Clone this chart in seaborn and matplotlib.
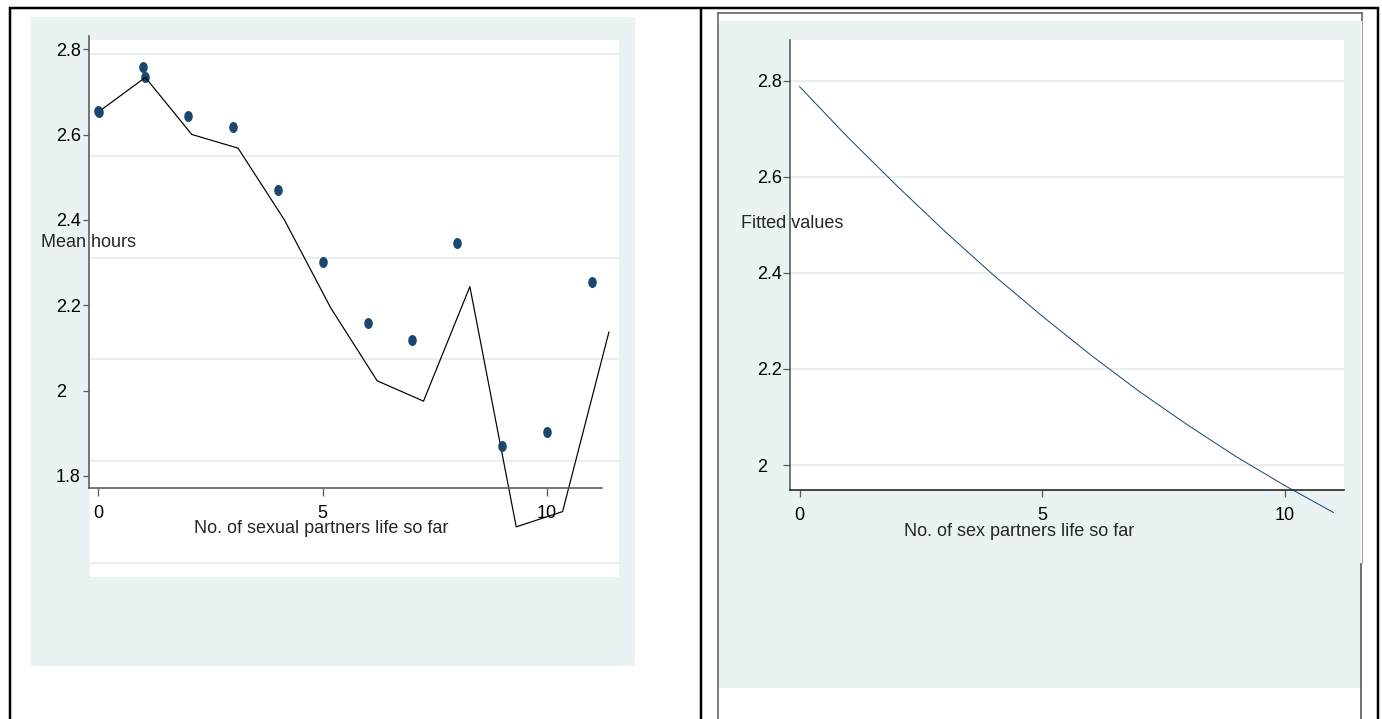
import matplotlib
matplotlib.use("Agg")
import matplotlib.pyplot as plt
from matplotlib.patches import Rectangle
from matplotlib.lines import Line2D
from matplotlib.path import Path
from matplotlib.transforms import Affine2D
import seaborn as sns
import pandas as pd

# ---- data -------------------------------------------------------------
partners = [0, 1, 2, 3, 4, 5, 6, 7, 8, 9, 10, 11]
mean_hours = [2.655, 2.759, 2.644, 2.617, 2.470, 2.301, 2.159, 2.118, 2.345, 1.870, 1.902, 2.255]
line_hours = [2.687, 2.754, 2.642, 2.615, 2.474, 2.301, 2.158, 2.118, 2.343, 1.871, 1.901, 2.254]
fitted_values = [2.788, 2.682, 2.582, 2.486, 2.395, 2.310, 2.229, 2.153, 2.083, 2.017, 1.957, 1.901]

x_ticks = [0, 5, 10]
x_tick_labels = ["0", "5", "10"]
y_ticks_left = [1.8, 2.0, 2.2, 2.4, 2.6, 2.8]
y_tick_labels_left = ["1.8", "2", "2.2", "2.4", "2.6", "2.8"]
y_ticks_right = [2.0, 2.2, 2.4, 2.6, 2.8]
y_tick_labels_right = ["2", "2.2", "2.4", "2.6", "2.8"]

left_df = pd.DataFrame({"partners": partners, "mean_hours": mean_hours, "line_hours": line_hours})
right_df = pd.DataFrame({"partners": partners, "fitted": fitted_values})

# ---- styling ----------------------------------------------------------
sns.set_theme(style="white")
plt.rcParams["font.family"] = ["Liberation Sans", "DejaVu Sans"]
plt.rcParams["font.size"] = 13

W, H = 1382, 719
DPI = 100
BG = "#EAF2F3"
GRID = "#E2ECEE"
NAVY = "#1A476F"
AXIS = "#5A5A5A"
PX = 72.0 / DPI  # points per pixel

fig = plt.figure(figsize=(W / DPI, H / DPI), dpi=DPI, facecolor="white")


def box(x0, y0, x1, y1):
    return [x0 / W, 1 - y1 / H, (x1 - x0) / W, (y1 - y0) / H]


def fig_rect(x0, y0, x1, y1, color):
    r = Rectangle((x0 / W, 1 - y1 / H), (x1 - x0) / W, (y1 - y0) / H,
                  transform=fig.transFigure, facecolor=color, edgecolor="none", zorder=-5)
    fig.patches.append(r)


def fig_line(xs, ys, color="black", lw_px=2.5):
    fig.add_artist(Line2D([x / W for x in xs], [1 - y / H for y in ys],
                          transform=fig.transFigure, color=color,
                          linewidth=lw_px * PX, solid_capstyle="butt", zorder=5))


# graph regions
fig_rect(30.7, 17.3, 635, 666, BG)
fig_rect(718.5, 20.7, 1361, 687.7, BG)

# slightly tall round marker
ellipse = Path.unit_circle().transformed(Affine2D().scale(0.78, 1.0))
MARKER_S = (11 * PX) ** 2


def style_axes(ax, xlim, ylim, yticks, ylabels, ytick_len_px, xtick_len_px):
    ax.set_facecolor("none")
    ax.set_xlim(*xlim)
    ax.set_ylim(*ylim)
    for side in ("top", "right"):
        ax.spines[side].set_visible(False)
    for side in ("left", "bottom"):
        ax.spines[side].set_color(AXIS)
        ax.spines[side].set_linewidth(1.6 * PX)
    ax.set_xticks(x_ticks)
    ax.set_xticklabels(x_tick_labels)
    ax.set_yticks(yticks)
    ax.set_yticklabels(ylabels)
    ax.tick_params(axis="y", direction="out", length=ytick_len_px * PX,
                   width=1.3 * PX, color=AXIS, labelsize=13, labelcolor="black",
                   pad=(33 - ytick_len_px) * PX, left=True)
    ax.tick_params(axis="x", direction="out", length=xtick_len_px * PX,
                   width=1.3 * PX, color=AXIS, labelsize=13, labelcolor="black",
                   pad=(17.5 - xtick_len_px) * PX, bottom=True)
    for lbl in ax.get_yticklabels():
        lbl.set_horizontalalignment("left")
    ax.grid(False)


# ---- left graph: plot region with grid and connecting line ------------
ax_bg = fig.add_axes(box(90, 40, 619, 577), zorder=0)
ax_bg.set_facecolor("white")
ax_bg.set_xlim(-0.194, 11.217)
ax_bg.set_ylim(1.7725, 2.8275)
for s in ax_bg.spines.values():
    s.set_visible(False)
ax_bg.set_xticks([])
ax_bg.set_yticks(y_ticks_left)
ax_bg.tick_params(axis="y", length=0, labelleft=False)
ax_bg.yaxis.grid(True, color=GRID, linewidth=1.6 * PX)
ax_bg.xaxis.grid(False)
sns.lineplot(data=left_df, x="partners", y="line_hours", ax=ax_bg,
             color="black", linewidth=1.2 * PX, estimator=None, sort=False)
sns.scatterplot(data=left_df.iloc[:2], x="partners", y="line_hours", ax=ax_bg,
                color=NAVY, marker=ellipse, s=MARKER_S, linewidth=0)
ax_bg.set_xlabel("")
ax_bg.set_ylabel("")

# ---- left graph: axes and scatter --------------------------------------
ax_l = fig.add_axes(box(89, 36, 602, 488), zorder=1)
sns.scatterplot(data=left_df, x="partners", y="mean_hours", ax=ax_l,
                color=NAVY, marker=ellipse, s=MARKER_S, linewidth=0)
style_axes(ax_l, (-0.207, 11.226), (1.7715, 2.831), y_ticks_left, y_tick_labels_left, 6, 8)
ax_l.set_ylabel("Mean hours", rotation=0, ha="left", va="center", fontsize=13)
ax_l.yaxis.set_label_coords(-0.0936, 0.544)
ax_l.set_xlabel("No. of sexual partners life so far", fontsize=13)
ax_l.xaxis.label.set_va("center")
ax_l.xaxis.set_label_coords(0.452, -0.0907)

# ---- right graph: fitted values -----------------------------------------
ax_r = fig.add_axes(box(790, 40, 1344, 490), zorder=1)
ax_r.set_facecolor("white")
sns.lineplot(data=right_df, x="partners", y="fitted", ax=ax_r, color=NAVY,
             linewidth=1.0 * PX, estimator=None, clip_on=False)
style_axes(ax_r, (-0.196, 11.215), (1.948, 2.885), y_ticks_right, y_tick_labels_right, 7, 7)
ax_r.set_facecolor("white")
ax_r.spines["bottom"].set_color("#222222")
ax_r.yaxis.grid(True, color=GRID, linewidth=1.6 * PX)
ax_r.set_axisbelow(True)
ax_r.set_ylabel("Fitted values", rotation=0, ha="left", va="center", fontsize=13)
ax_r.yaxis.set_label_coords(-0.0883, 0.593)
ax_r.set_xlabel("No. of sex partners life so far", fontsize=13)
ax_r.xaxis.label.set_va("center")
ax_r.xaxis.set_label_coords(0.414, -0.0933)

# ---- table borders ------------------------------------------------------
fig_line([9, 1378.7], [7.5, 7.5])
fig_line([10, 10], [6.5, 719])
fig_line([701, 701], [6.5, 719])
fig_line([1377.5, 1377.5], [6.5, 719])
# frame of the right graph image
fig_line([717.5, 1362], [12.5, 12.5], color="#555555", lw_px=1.5)
fig_line([718, 718], [12, 719], color="#555555", lw_px=1.5)
fig_line([1361.5, 1361.5], [12, 20.5], color="#555555", lw_px=1.5)
fig_line([1361.5, 1361.5], [20.5, 563], color="#9A9A9A", lw_px=1.0)
fig_line([1360.5, 1360.5], [563, 719], color="#444444", lw_px=1.5)

fig.savefig("out.png", dpi=DPI, facecolor="white")
